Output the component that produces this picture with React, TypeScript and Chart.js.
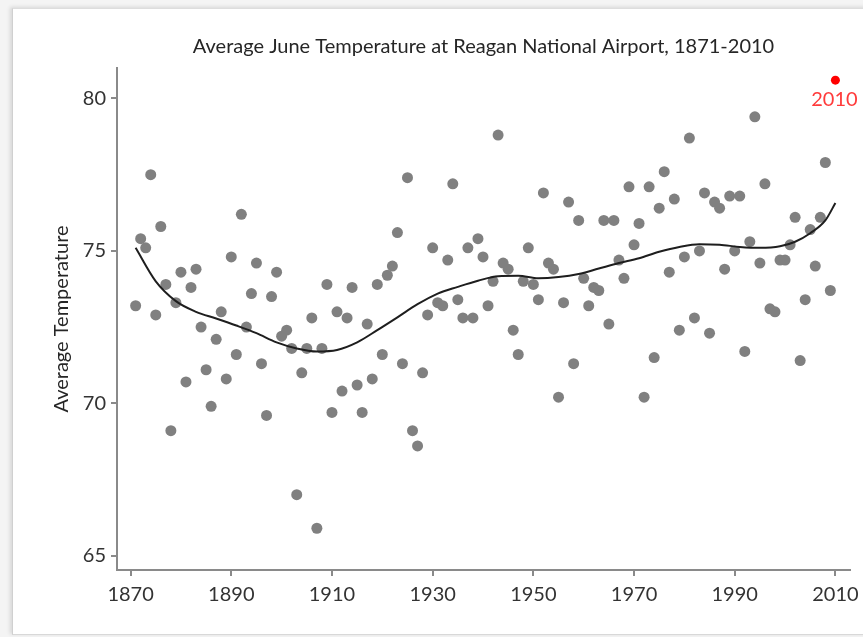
import React, { useEffect, useRef } from "react";
import { Chart, registerables } from "chart.js";

Chart.register(...registerables);

const FIRST_YEAR = 1871;
const TITLE = "Average June Temperature at Reagan National Airport, 1871-2010";
const Y_TITLE = "Average Temperature";
const X_TICKS = [1870, 1890, 1910, 1930, 1950, 1970, 1990, 2010];
const Y_TICKS = [65, 70, 75, 80];

// Average June temperature, 1871..2009 (grey points)
const temps = [
  73.2, 75.4, 75.1, 77.5, 72.9, 75.8, 73.9, 69.1, 73.3, 74.3,
  70.7, 73.8, 74.4, 72.5, 71.1, 69.9, 72.1, 73.0, 70.8, 74.8,
  71.6, 76.2, 72.5, 73.6, 74.6, 71.3, 69.6, 73.5, 74.3, 72.2,
  72.4, 71.8, 67.0, 71.0, 71.8, 72.8, 65.9, 71.8, 73.9, 69.7,
  73.0, 70.4, 72.8, 73.8, 70.6, 69.7, 72.6, 70.8, 73.9, 71.6,
  74.2, 74.5, 75.6, 71.3, 77.4, 69.1, 68.6, 71.0, 72.9, 75.1,
  73.3, 73.2, 74.7, 77.2, 73.4, 72.8, 75.1, 72.8, 75.4, 74.8,
  73.2, 74.0, 78.8, 74.6, 74.4, 72.4, 71.6, 74.0, 75.1, 73.9,
  73.4, 76.9, 74.6, 74.4, 70.2, 73.3, 76.6, 71.3, 76.0, 74.1,
  73.2, 73.8, 73.7, 76.0, 72.6, 76.0, 74.7, 74.1, 77.1, 75.2,
  75.9, 70.2, 77.1, 71.5, 76.4, 77.6, 74.3, 76.7, 72.4, 74.8,
  78.7, 72.8, 75.0, 76.9, 72.3, 76.6, 76.4, 74.4, 76.8, 75.0,
  76.8, 71.7, 75.3, 79.4, 74.6, 77.2, 73.1, 73.0, 74.7, 74.7,
  75.2, 76.1, 71.4, 73.4, 75.7, 74.5, 76.1, 77.9, 73.7,
];

// Highlighted year
const highlightYear = 2010;
const highlightTemp = 80.6;

// Smoothed (loess) trend
const trendYears = [
  1871, 1875, 1879, 1883, 1887, 1891, 1895, 1899, 1903, 1907,
  1911, 1915, 1919, 1923, 1927, 1931, 1935, 1939, 1943, 1947,
  1951, 1955, 1959, 1963, 1967, 1971, 1975, 1979, 1983, 1987,
  1991, 1995, 1999, 2002, 2005, 2008, 2010,
];
const trendValues = [
  75.1, 74.0, 73.35, 73.0, 72.78, 72.55, 72.3, 72.0, 71.8, 71.7,
  71.75, 72.0, 72.4, 72.82, 73.25, 73.6, 73.82, 74.02, 74.17, 74.18,
  74.1, 74.14, 74.24, 74.42, 74.6, 74.76, 74.97, 75.13, 75.22, 75.2,
  75.13, 75.1, 75.15, 75.3, 75.58, 76.0, 76.57,
];

const FONT = "Lato, 'Open Sans', sans-serif";

export default function App() {
  const ref = useRef<HTMLCanvasElement | null>(null);

  useEffect(() => {
    if (!ref.current) return;
    const points = temps.map((t, i) => ({ x: FIRST_YEAR + i, y: t }));
    const trend = trendYears.map((yr, i) => ({ x: yr, y: trendValues[i] }));

    const overlay = {
      id: "overlay",
      afterDraw(chart: any) {
        const { ctx, chartArea, scales } = chart;
        ctx.save();
        ctx.fillStyle = "#262626";
        ctx.font = `20px ${FONT}`;
        ctx.textAlign = "center";
        ctx.textBaseline = "middle";
        ctx.fillText(TITLE, (chartArea.left + chartArea.right) / 2, 47);

        ctx.save();
        ctx.translate(62, (chartArea.top + chartArea.bottom) / 2);
        ctx.rotate(-Math.PI / 2);
        ctx.font = `20px ${FONT}`;
        ctx.fillText(Y_TITLE, 0, 0);
        ctx.restore();

        const px = scales.x.getPixelForValue(highlightYear);
        const py = scales.y.getPixelForValue(highlightTemp);
        ctx.fillStyle = "#ff3b3b";
        ctx.font = `20px ${FONT}`;
        ctx.textBaseline = "top";
        ctx.fillText(String(highlightYear), px - 1, py + 9);
        ctx.restore();
      },
    };

    const chart = new Chart(ref.current, {
      type: "scatter",
      data: {
        datasets: [
          {
            type: "line",
            data: trend,
            borderColor: "#1e1e1e",
            borderWidth: 2,
            pointRadius: 0,
            tension: 0.4,
            cubicInterpolationMode: "monotone",
            fill: false,
            order: 0,
          } as any,
          {
            data: [{ x: highlightYear, y: highlightTemp }],
            backgroundColor: "#ff0000",
            borderWidth: 0,
            pointRadius: 4.5,
            order: 1,
          },
          {
            data: points,
            backgroundColor: "#808080",
            borderWidth: 0,
            pointRadius: 5.5,
            order: 2,
          },
        ],
      },
      options: {
        animation: false,
        responsive: false,
        maintainAspectRatio: false,
        layout: { padding: { top: 68, right: 13, left: 0, bottom: 0 } },
        plugins: {
          legend: { display: false },
          tooltip: { enabled: false },
          title: { display: false },
        },
        scales: {
          x: {
            type: "linear",
            min: 1867.3,
            max: 2012.9,
            afterBuildTicks: (scale: any) => {
              scale.ticks = X_TICKS.map((v) => ({ value: v }));
            },
            afterFit: (scale: any) => {
              scale.height = 67;
              scale.paddingLeft = 0;
              scale.paddingRight = 0;
            },
            grid: {
              drawOnChartArea: false,
              drawTicks: true,
              tickLength: 6,
              color: "#8a8a8a",
              lineWidth: 2,
            },
            border: { display: true, color: "#8a8a8a", width: 2 },
            ticks: {
              color: "#333333",
              font: { family: FONT, size: 20 },
              padding: 7,
              maxRotation: 0,
              autoSkip: false,
              callback: (v: any) => String(v),
            },
          },
          y: {
            type: "linear",
            min: 64.53,
            max: 81.0,
            afterBuildTicks: (scale: any) => {
              scale.ticks = Y_TICKS.map((v) => ({ value: v }));
            },
            afterFit: (scale: any) => {
              scale.width = 117;
              scale.paddingTop = 0;
              scale.paddingBottom = 0;
            },
            grid: {
              drawOnChartArea: false,
              drawTicks: true,
              tickLength: 6,
              color: "#8a8a8a",
              lineWidth: 2,
            },
            border: { display: true, color: "#8a8a8a", width: 2 },
            ticks: {
              color: "#333333",
              font: { family: FONT, size: 20 },
              padding: 5,
              autoSkip: false,
              callback: (v: any) => String(v),
            },
          },
        },
      },
      plugins: [overlay],
    } as any);

    return () => chart.destroy();
  }, []);

  return (
    <div style={{ position: "fixed", left: 0, top: 0, width: 863, height: 637, background: "#f4f4f4", overflow: "hidden" }}>
      <div
        style={{
          position: "absolute",
          left: 12,
          top: 8,
          width: 880,
          height: 625,
          background: "#ffffff",
          borderLeft: "1px solid #d0d0d0",
          borderTop: "1px solid #dddddd",
          borderBottom: "1px solid #d8d8d8",
          boxShadow: "-2px -1px 4px rgba(0,0,0,0.12)",
        }}
      />
      <canvas ref={ref} width={863} height={637} style={{ position: "absolute", left: 0, top: 0, width: 863, height: 637 }} />
    </div>
  );
}
